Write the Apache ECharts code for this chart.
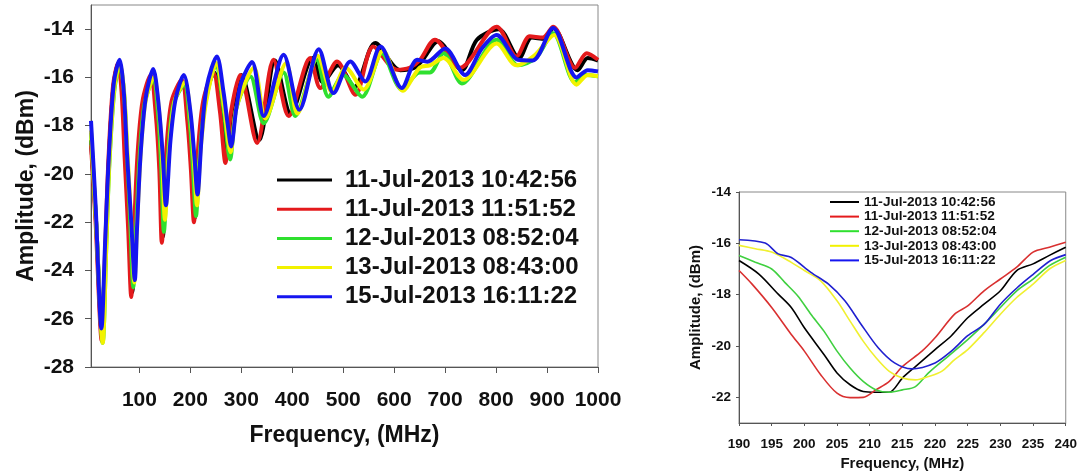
<!DOCTYPE html>
<html>
<head>
<meta charset="utf-8">
<title>Amplitude vs Frequency</title>
<script src="https://cdn.jsdelivr.net/npm/echarts@6.0.0/dist/echarts.min.js"></script>
<style>
	html, body {
		margin: 0;
		padding: 0;
		background: #fff;
	}
	#chart {
		width: 1080px;
		height: 474px;
	}
</style>
</head>
<body>
<div id="chart"></div>
<script>
// legend names (one per sweep)
const sweepNames = [
	'11-Jul-2013 10:42:56',
	'11-Jul-2013 11:51:52',
	'12-Jul-2013 08:52:04',
	'13-Jul-2013 08:43:00',
	'15-Jul-2013 16:11:22'
];

// left panel: [MHz, dBm], 5 - 1000 MHz
const wideBlack = [[5,-18.6],[15,-22.0],[27,-26.8],[34,-23.0],[40,-19.5],[49,-16.4],[59,-15.4],[67,-16.6],[73,-19.3],[80,-22.2],[86,-24.9],[91,-22.5],[98,-19.3],[108,-17.0],[124,-16.0],[134,-17.5],[141,-19.8],[146,-22.6],[154,-19.3],[165,-17.0],[185,-16.2],[196,-17.8],[203,-19.8],[209,-21.8],[216,-19.3],[227,-17.0],[247,-15.8],[260,-17.3],[272,-19.3],[283,-17.3],[300,-15.9],[335,-18.6],[366,-15.3],[397,-17.5],[440,-15.2],[460,-16.2],[490,-15.5],[522,-16.4],[563,-14.57],[612,-15.7],[640,-15.6],[655,-15.3],[686,-14.5],[733,-15.7],[762,-14.45],[805,-14.0],[845,-15.2],[870,-14.35],[895,-14.4],[912,-13.95],[960,-15.7],[980,-15.2],[1000,-15.3]];
const wideRed = [[5,-18.8],[14,-22.0],[26,-26.9],[33,-23.0],[39,-19.5],[48,-16.4],[58,-15.4],[65,-16.6],[71,-19.3],[78,-22.3],[84,-25.1],[89,-22.6],[96,-19.3],[106,-17.0],[122,-15.9],[132,-17.5],[139,-19.8],[144,-22.85],[152,-19.3],[163,-17.0],[183,-16.1],[194,-17.8],[201,-19.8],[207,-22.0],[214,-19.3],[225,-17.0],[245,-15.8],[258,-17.4],[269,-19.55],[280,-17.4],[298,-15.9],[331,-18.72],[363,-15.27],[393,-17.6],[435,-15.2],[455,-16.44],[488,-15.34],[524,-16.72],[559,-14.72],[605,-15.68],[630,-15.6],[650,-15.3],[680,-14.44],[729,-15.6],[801,-13.9],[840,-15.13],[866,-14.3],[892,-14.35],[912,-13.9],[955,-15.6],[978,-15.0],[1000,-15.27]];
const wideGreen = [[5,-18.3],[15,-22.0],[28,-27.0],[35,-23.0],[41,-19.6],[51,-16.5],[62,-15.5],[70,-16.7],[76,-19.3],[82,-22.0],[88,-24.7],[93,-22.5],[100,-19.4],[110,-17.1],[127,-16.1],[137,-17.6],[143,-19.8],[148,-22.4],[156,-19.3],[167,-17.1],[188,-16.3],[199,-17.9],[205,-19.7],[211,-21.75],[218,-19.3],[229,-17.1],[250,-15.5],[265,-17.3],[278,-19.4],[290,-17.3],[318,-15.96],[344,-17.9],[383,-15.8],[406,-17.6],[448,-15.27],[471,-16.8],[500,-15.9],[537,-16.8],[576,-15.0],[615,-16.5],[650,-15.8],[670,-15.8],[697,-15.0],[733,-16.25],[801,-14.44],[843,-15.5],[878,-15.2],[912,-14.17],[955,-16.2],[975,-15.9],[1000,-15.95]];
const wideYellow = [[5,-18.2],[15,-22.0],[28,-27.0],[35,-23.0],[41,-19.5],[51,-16.4],[62,-15.4],[70,-16.6],[77,-19.3],[84,-22.0],[90,-24.5],[95,-22.3],[102,-19.3],[112,-17.0],[128,-16.0],[139,-17.5],[145,-19.5],[150,-21.9],[158,-19.1],[169,-17.0],[189,-16.2],[201,-17.8],[207,-19.5],[213,-21.3],[220,-19.0],[231,-17.0],[251,-15.4],[266,-17.2],[279,-19.1],[291,-17.2],[325,-15.6],[347,-17.7],[388,-15.4],[410,-17.5],[450,-15.1],[478,-16.6],[505,-15.6],[540,-16.5],[578,-14.9],[617,-16.55],[650,-15.6],[670,-15.5],[697,-15.2],[736,-16.1],[801,-14.6],[840,-15.5],[875,-15.1],[914,-14.24],[958,-16.3],[980,-15.9],[1000,-15.95]];
const wideBlue = [[5,-17.8],[14,-21.3],[25.5,-26.4],[33,-22.7],[40,-19.3],[50,-16.2],[61,-15.27],[69,-16.5],[76,-19.3],[84,-22.0],[91,-24.4],[95,-22.4],[102,-19.3],[112,-16.9],[127,-15.65],[138,-17.2],[146,-19.3],[152,-21.3],[161,-18.6],[171,-16.9],[187,-15.9],[200,-17.4],[208,-19.3],[214,-20.85],[222,-18.5],[232,-16.4],[252,-15.13],[265,-16.6],[273,-17.9],[280,-18.86],[290,-17.3],[300,-16.2],[321,-15.36],[344,-17.6],[383,-15.06],[414,-17.34],[452,-14.83],[481,-16.65],[514,-15.34],[543,-16.17],[573,-14.72],[615,-16.44],[645,-15.27],[665,-15.35],[700,-14.8],[739,-15.9],[772,-14.8],[801,-14.24],[843,-15.27],[872,-15.3],[912,-13.95],[958,-16.0],[980,-15.7],[1000,-15.75]];

// right panel: zoom on the 190 - 240 MHz dip
const zoomBlack = [[190,-16.67],[193,-17.19],[196,-17.98],[198,-18.5],[200,-19.29],[203,-20.33],[205,-21.05],[207,-21.51],[209,-21.77],[211,-21.8],[213,-21.8],[215,-21.25],[217,-20.8],[220,-20.14],[222.5,-19.6],[225,-18.9],[227.5,-18.37],[230,-17.85],[232.5,-17.06],[235,-16.8],[237.5,-16.47],[240,-16.15]];
const zoomRed = [[190,-17.06],[192,-17.59],[195,-18.5],[198,-19.55],[200,-20.2],[202.5,-21.12],[205,-21.84],[207,-22.01],[209,-22.0],[211,-21.7],[213,-21.38],[215,-20.8],[218,-20.2],[220,-19.68],[223,-18.76],[225,-18.44],[227.5,-17.85],[230,-17.39],[232.5,-16.93],[235,-16.34],[237.5,-16.15],[240,-15.96]];
const zoomGreen = [[190,-16.47],[192.5,-16.74],[195,-17.0],[197,-17.52],[199,-18.05],[201,-18.76],[203,-19.42],[205,-20.2],[207,-20.86],[209,-21.38],[211,-21.71],[213,-21.8],[215,-21.71],[217,-21.58],[219,-21.05],[222,-20.4],[225,-19.75],[227.5,-19.16],[230,-18.5],[232.5,-17.85],[235,-17.39],[237.5,-16.87],[240,-16.54]];
const zoomYellow = [[190,-16.08],[192.5,-16.21],[195,-16.34],[198,-16.74],[200,-17.06],[202.5,-17.46],[205,-18.24],[207,-19.03],[209,-19.81],[211,-20.47],[213,-20.99],[215,-21.25],[217,-21.32],[219,-21.19],[221,-20.99],[223,-20.53],[225,-20.14],[227.5,-19.48],[230,-18.76],[232.5,-18.11],[235,-17.59],[237.5,-17.0],[240,-16.67]];
const zoomBlue = [[190,-15.86],[194,-15.99],[196,-16.41],[198,-16.55],[201,-17.13],[203.7,-17.59],[206.2,-18.24],[208.7,-19.16],[211.3,-20.07],[213.8,-20.66],[216.4,-20.89],[220,-20.66],[222.5,-20.2],[225,-19.6],[227.5,-19.16],[230,-18.37],[232.6,-17.72],[235.1,-17.19],[237.7,-16.67],[240,-16.44]];

// tick labels
const wideFreqTicks = [100, 200, 300, 400, 500, 600, 700, 800, 900, 1000];
const wideAmpTicks = [-28, -26, -24, -22, -20, -18, -16, -14];
const zoomAmpTicks = [-22, -20, -18, -16, -14];

const wideSets = [wideBlack, wideRed, wideGreen, wideYellow, wideBlue];
const zoomSets = [zoomBlack, zoomRed, zoomGreen, zoomYellow, zoomBlue];
const wideColors = ['#000000', '#e41a1c', '#2fe02f', '#f2f200', '#1515f0'];
const zoomColors = ['#000000', '#d93030', '#40d040', '#f0f030', '#2020d0'];

const font = 'Liberation Sans, Arial, sans-serif';
const ink = '#111';

function axisBase(fontSize, tickLen) {
	return {
		axisLine: { show: true, lineStyle: { color: '#555', width: 1 } },
		axisTick: { show: true, inside: false, length: tickLen, lineStyle: { color: '#555' } },
		splitLine: { show: false },
		axisLabel: { color: ink, fontSize: fontSize, fontWeight: 'bold', fontFamily: font, formatter: v => String(v) },
		nameTextStyle: { color: ink, fontWeight: 'bold', fontFamily: font },
		nameLocation: 'middle'
	};
}

const chart = echarts.init(document.getElementById('chart'), null, { renderer: 'canvas' });

const xWide = axisBase(21, 6);
Object.assign(xWide, {
	type: 'value', gridIndex: 0, min: 5, max: 1000,
	name: 'Frequency, (MHz)', nameGap: 57
});
xWide.axisLabel.margin = 23;
xWide.axisLabel.customValues = wideFreqTicks;
xWide.axisTick.customValues = wideFreqTicks;
xWide.nameTextStyle.fontSize = 23;

const yWide = axisBase(21, 6);
Object.assign(yWide, {
	type: 'value', gridIndex: 0, min: -28, max: -13,
	name: 'Amplitude, (dBm)', nameGap: 53
});
yWide.axisLabel.margin = 17;
yWide.axisLabel.customValues = wideAmpTicks;
yWide.axisTick.customValues = wideAmpTicks;
yWide.nameTextStyle.fontSize = 23;

const xZoom = axisBase(13.5, 3);
Object.assign(xZoom, {
	type: 'value', gridIndex: 1, min: 190, max: 240, interval: 5,
	name: 'Frequency, (MHz)', nameGap: 33
});
xZoom.axisLabel.margin = 14;
xZoom.nameTextStyle.fontSize = 15;

const yZoom = axisBase(13.5, 3);
Object.assign(yZoom, {
	type: 'value', gridIndex: 1, min: -23, max: -14,
	name: 'Amplitude, (dBm)', nameGap: 36
});
yZoom.axisLabel.margin = 8;
yZoom.axisLabel.customValues = zoomAmpTicks;
yZoom.axisTick.customValues = zoomAmpTicks;
yZoom.nameTextStyle.fontSize = 15;

const series = [];
wideSets.forEach((d, i) => {
	series.push({
		name: sweepNames[i], type: 'line', xAxisIndex: 0, yAxisIndex: 0,
		data: d, smooth: 0.3, showSymbol: false,
		lineStyle: { color: wideColors[i], width: 4 },
		itemStyle: { color: wideColors[i] }
	});
});
zoomSets.forEach((d, i) => {
	series.push({
		name: sweepNames[i], type: 'line', xAxisIndex: 1, yAxisIndex: 1,
		data: d, smooth: 0.3, showSymbol: false,
		lineStyle: { color: zoomColors[i], width: 1.6 },
		itemStyle: { color: zoomColors[i] }
	});
});

const option = {
	animation: false,
	backgroundColor: '#fff',
	grid: [
		{ left: 91, right: 482, top: 5, bottom: 107, show: true, borderColor: '#888', borderWidth: 1 },
		{ left: 739, right: 12, top: 192, bottom: 51, show: true, borderColor: '#888', borderWidth: 1 }
	],
	legend: [
		{
			orient: 'vertical', left: 277, top: 168, padding: 0,
			data: sweepNames, icon: 'rect', itemWidth: 55, itemHeight: 3, itemGap: 5.2,
			textStyle: { color: ink, fontSize: 24, lineHeight: 24, fontWeight: 'bold', fontFamily: font, padding: [0, 0, 0, 8] }
		},
		{
			orient: 'vertical', left: 830, top: 195, padding: 0,
			data: sweepNames, icon: 'rect', itemWidth: 29, itemHeight: 2, itemGap: 0.6,
			textStyle: { color: ink, fontSize: 13.6, lineHeight: 14, fontWeight: 'bold', fontFamily: font }
		}
	],
	xAxis: [xWide, xZoom],
	yAxis: [yWide, yZoom],
	series: series
};

chart.setOption(option);
</script>
</body>
</html>
